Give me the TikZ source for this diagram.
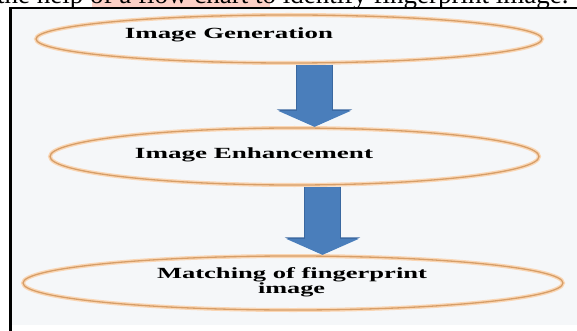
\documentclass[tikz,border=0pt]{standalone}
\usepackage{fontspec}
\setmainfont{Liberation Serif}
\usepackage{graphicx}
\usetikzlibrary{arrows.meta,shapes.geometric}
\definecolor{bgfill}{RGB}{245,247,249}
\definecolor{ringglow}{RGB}{250,214,180}
\definecolor{ringline}{RGB}{214,158,104}
\definecolor{arrowblue}{RGB}{74,126,187}
\definecolor{arrowedge}{RGB}{58,104,160}
\definecolor{pinkmark}{RGB}{252,208,198}
\newcommand{\wtext}[2]{\resizebox{#1}{\height}{#2}}
\begin{document}
\begin{tikzpicture}[x=1pt,y=-1pt,
  ring/.style={ellipse,draw=ringline,line width=1.3pt,inner sep=0pt,
    preaction={draw=ringglow,line width=4pt}},
  stagetext/.style={anchor=base,inner sep=0pt,font=\fontsize{15.5}{18}\selectfont\bfseries},
  blockarrow/.style={line width=35pt,draw=arrowblue,
    -{Triangle[width=72pt,length=16pt]}},
  blockedge/.style={line width=37pt,draw=arrowedge,
    -{Triangle[width=75pt,length=17pt]}}
]
\useasboundingbox (0,0) rectangle (577,331);
% background and frame
\fill[bgfill] (11,9) rectangle (577,325);
\fill[pinkmark] (92,0) rectangle (270,7);
\node[anchor=base west,inner sep=0pt,font=\fontsize{27}{28}\selectfont] (caption) at (-3,4)
  {the help of a flow chart to identify fingerprint image.};
\draw[line width=1.8pt] (9.5,8) -- (577,8);
\draw[line width=2.8pt] (10.5,7.1) -- (10.5,331);
% stages
\node[ring,minimum width=506pt,minimum height=48pt] (e1) at (289,39) {};
\node[ring,minimum width=489pt,minimum height=57pt] (e2) at (294.5,156.5) {};
\node[ring,minimum width=540pt,minimum height=54pt] (e3) at (293,283) {};
% connectors
\draw[blockedge] ([xshift=25.5pt,yshift=-1pt]e1.south) -- ([xshift=20pt,yshift=1pt]e2.north);
\draw[blockarrow] ([xshift=25.5pt,yshift=-1pt]e1.south) -- ([xshift=20pt,yshift=0.5pt]e2.north);
\draw[blockedge] ([xshift=28pt,yshift=-1pt]e2.south) -- ([xshift=29.5pt,yshift=1pt]e3.north);
\draw[blockarrow] ([xshift=28pt,yshift=-1pt]e2.south) -- ([xshift=29.5pt,yshift=0.5pt]e3.north);
% labels
\node[stagetext] (t1) at (229,39) {\wtext{208pt}{Image Generation}};
\node[stagetext] (t2) at (254,158) {\wtext{238pt}{Image Enhancement}};
\node[stagetext] (t3) at (292,278) {\wtext{270pt}{Matching of fingerprint}};
\node[stagetext] (t3b) at (291.5,293) {\wtext{67pt}{image}};
\end{tikzpicture}
\end{document}
